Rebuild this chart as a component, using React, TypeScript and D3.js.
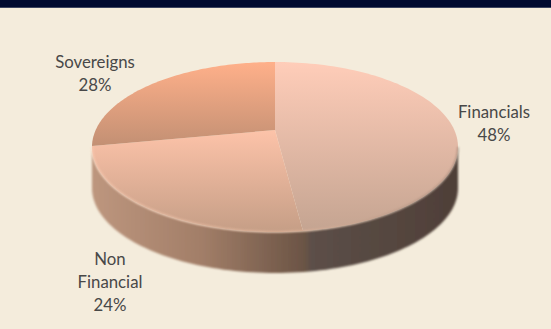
import React from "react";
import * as d3 from "d3";

const categories = ["Financials", "Non Financial", "Sovereigns"];
const shares = [48, 24, 28];
const labelLines = [["Financials", "48%"], ["Non", "Financial", "24%"], ["Sovereigns", "28%"]];

const W = 551, H = 329;
const cx = 275, cy = 147, rx = 183, ry = 85, depth = 41;
// Perspective tilt: the disc's centre projects above the ellipse centre.
const tilt = -0.2;

const project = (theta: number): [number, number] => {
  const u = Math.sin(theta), v = -Math.cos(theta);
  const w = 1 + tilt * v;
  return [cx + (rx * Math.sqrt(1 - tilt * tilt) * u) / w, cy + (ry * (v + tilt)) / w];
};
const apex: [number, number] = [cx, cy + ry * tilt];

const pieAngles = d3.pie<number>().sort(null)(shares);
const line = d3.line();
const sample = (a: number, b: number) => d3.range(0, 101).map((i) => project(a + ((b - a) * i) / 100));

const sliceFill = ["url(#fin)", "url(#non)", "url(#sov)"];
const labelPos: [number, number][] = [[494, 118], [110, 265], [95, 68]];

// Visible rim: lower half of the ellipse, extruded downward.
const rimFront = d3.range(0, 101).map((i) => [cx + rx * Math.cos((Math.PI * i) / 100), cy + ry * Math.sin((Math.PI * i) / 100)] as [number, number]);
const rimPath = line([
  ...rimFront,
  ...rimFront.slice().reverse().map(([x, y]) => [x, y + depth] as [number, number]),
])! + "Z";
const bevelPath = line(rimFront)!;

export default function App() {
  return (
    <svg width={W} height={H} viewBox={`0 0 ${W} ${H}`} style={{ position: "fixed", left: 0, top: 0, display: "block" }}>
      <defs>
        <linearGradient id="fin" gradientUnits="userSpaceOnUse" x1="0" y1="62" x2="0" y2="232">
          <stop offset="0" stopColor="#ffcdb9" />
          <stop offset="1" stopColor="#c4a491" />
        </linearGradient>
        <linearGradient id="non" gradientUnits="userSpaceOnUse" x1="0" y1="130" x2="0" y2="232">
          <stop offset="0" stopColor="#fdc3a9" />
          <stop offset="1" stopColor="#c59e86" />
        </linearGradient>
        <linearGradient id="sov" gradientUnits="userSpaceOnUse" x1="0" y1="62" x2="0" y2="148">
          <stop offset="0" stopColor="#ffb08a" />
          <stop offset="1" stopColor="#c18f73" />
        </linearGradient>
        <linearGradient id="rim" gradientUnits="userSpaceOnUse" x1="92" y1="0" x2="458" y2="0">
          <stop offset="0" stopColor="#bd967e" />
          <stop offset="0.3" stopColor="#a27e68" />
          <stop offset="0.58" stopColor="#6b5445" />
          <stop offset="0.6" stopColor="#5c4f48" />
          <stop offset="1" stopColor="#4f3f38" />
        </linearGradient>
        <linearGradient id="bevel" gradientUnits="userSpaceOnUse" x1="92" y1="0" x2="458" y2="0">
          <stop offset="0" stopColor="#ffd4bd" />
          <stop offset="0.55" stopColor="#f0c0a5" />
          <stop offset="1" stopColor="#8a7468" />
        </linearGradient>
        <filter id="soft" x="-5%" y="-5%" width="110%" height="110%">
          <feGaussianBlur stdDeviation="0.8" />
        </filter>
      </defs>
      <rect x={0} y={0} width={W} height={H} fill="#f4ecdc" />
      <rect x={0} y={0} width={W} height={7} fill="#000a30" />
      <rect x={0} y={7} width={W} height={1} fill="#3d4560" />
      <path d={rimPath} fill="url(#rim)" filter="url(#soft)" />
      {pieAngles.map((p, i) => (
        <path key={categories[i]} d={line([apex, ...sample(p.startAngle, p.endAngle)])! + "Z"} fill={sliceFill[i]} />
      ))}
      <path d={bevelPath} fill="none" stroke="url(#bevel)" strokeWidth={1.5} opacity={0.7} filter="url(#soft)" />
      {labelLines.map((lines, i) => (
        <text key={categories[i]} textAnchor="middle" fontFamily="Lato, sans-serif" fontSize={16.8} fill="#484848">
          {lines.map((t, j) => (
            <tspan key={t} x={labelPos[i][0]} y={labelPos[i][1] + j * 22.8}>{t}</tspan>
          ))}
        </text>
      ))}
    </svg>
  );
}
